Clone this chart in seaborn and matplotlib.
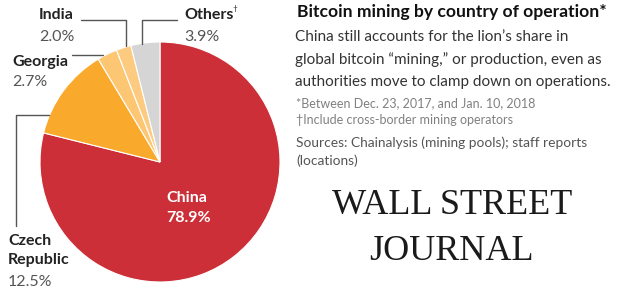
import matplotlib
matplotlib.use("Agg")
import matplotlib.pyplot as plt
import seaborn as sns
from matplotlib.lines import Line2D

# data
countries = ["China", "Czech Republic", "Georgia", "India", "Others"]
shares = [78.9, 12.5, 2.7, 2.0, 3.9]
colors = ["#cd2f38", "#f9a92b", "#fcc673", "#fdcb80", "#d5d5d5"]

title = "Bitcoin mining by country of operation*"
subtitle = ["China still accounts for the lion\u2019s share in",
            "global bitcoin \u201cmining,\u201d or production, even as",
            "authorities move to clamp down on operations."]
notes = ["*Between Dec. 23, 2017, and Jan. 10, 2018",
         "\u2020Include cross-border mining operators"]
sources = ["Sources: Chainalysis (mining pools); staff reports",
           "(locations)"]

sns.set_theme(style="white")
plt.rcParams['font.family'] = ['Lato', 'DejaVu Sans']

W, H = 620, 294
fig = plt.figure(figsize=(W / 100, H / 100), dpi=100)


def px(x, y):
    return x / W, 1 - y / H


# pie axes: centre (160,162), radius 120 px
ax = fig.add_axes([40 / W, (H - 282) / H, 240 / W, 240 / H])
ax.pie(shares, colors=colors, startangle=90, counterclock=False,
       wedgeprops=dict(edgecolor="white", linewidth=0.8), radius=1)
ax.set_xlim(-1, 1)
ax.set_ylim(-1, 1)
ax.set_aspect("equal")
ax.axis("off")

dark = "#222222"
grey = "#555555"
light = "#808080"


def t(x, y, s, **kw):
    fig.text(*px(x, y), s, va="center", ha="left", **kw)


# leader lines
def line(xs, ys):
    pts = [px(x, y) for x, y in zip(xs, ys)]
    fig.add_artist(Line2D([p[0] for p in pts], [p[1] for p in pts],
                          transform=fig.transFigure, color="#555555", lw=1))


line([81, 126, 126], [20, 20, 46])          # India
line([177, 142, 142], [20, 20, 44])         # Others
line([72, 103], [55, 55])                   # Georgia
line([49, 16, 16], [115, 115, 226])         # Czech Republic

pct = [f"{s:.1f}%" for s in shares]
lab = dict(fontsize=11.5, fontweight="bold", color=dark)
val = dict(fontsize=11.5, color=grey)

# China (inside)
t(166, 198, countries[0], fontsize=11.5, fontweight="bold", color="white")
t(166, 218, pct[0], fontsize=11.5, fontweight="bold", color="white")
# Czech Republic
t(8, 241, "Czech", **lab)
t(8, 260, "Republic", **lab)
t(8, 282, pct[1], **val)
# Georgia
t(12, 62, countries[2], **lab)
t(12, 82, pct[2], **val)
# India
t(39, 15, countries[3], **lab)
t(39, 37, pct[3], **val)
# Others
t(184, 15, countries[4], **lab)
t(232, 9, "\u2020", fontsize=6, color=dark)
t(184, 37, pct[4], **val)

# right-hand text block
t(297, 12, title, fontsize=12.6, fontweight="bold", color="#111111")
for i, s in enumerate(subtitle):
    t(295, 37 + i * 22.5, s, fontsize=11, color="#333333")
for i, s in enumerate(notes):
    t(296, 103 + i * 17, s, fontsize=9, color=light)
for i, s in enumerate(sources):
    t(296, 143 + i * 18, s, fontsize=9.9, color=grey)

# masthead
mast = dict(fontsize=26, ha="center", va="center",
            family="Liberation Serif", color="#1a1a1a")
fig.text(*px(452, 206), "WALL STREET", **mast)
fig.text(*px(451, 252), "JOURNAL", **mast)

fig.savefig("out.png", dpi=100, facecolor="white")
